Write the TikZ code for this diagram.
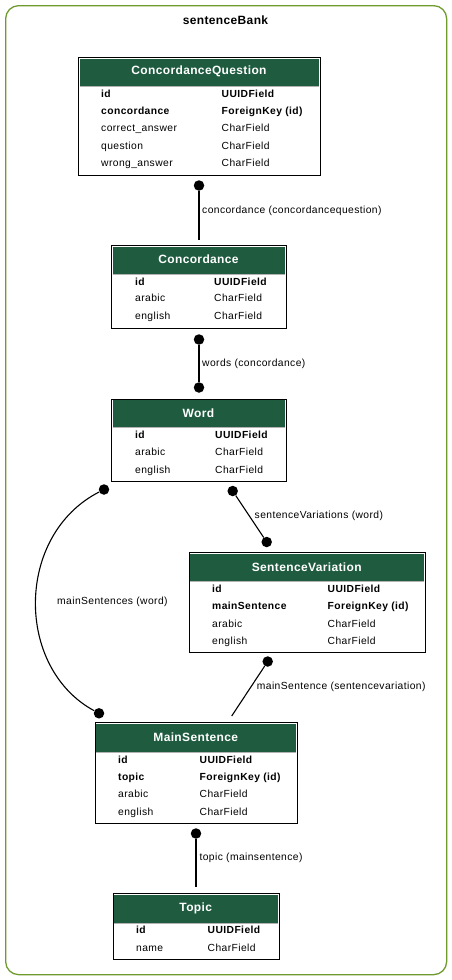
\documentclass[tikz,border=0pt]{standalone}
\usepackage{fontspec}
\setmainfont{Liberation Sans}
\newfontfamily\smallfont[LetterSpace=4]{Liberation Sans}
\newfontfamily\titlefont[LetterSpace=3]{Liberation Sans}
\definecolor{hdrgreen}{HTML}{1E5B3F}
\definecolor{framegreen}{HTML}{6E9A2E}
\tikzset{
  tbl/.style={draw=black, line width=1.2pt, fill=white, inner sep=0pt, rectangle},
  hdrfill/.style={fill=hdrgreen},
  hdrtext/.style={text=white, font=\titlefont\fontsize{12}{14}\selectfont\bfseries, inner sep=0pt},
  rowtxt/.style={anchor=base west, inner sep=0pt, font=\smallfont\fontsize{10.3}{12}\selectfont},
  rowkey/.style={rowtxt, font=\smallfont\fontsize{10.3}{12}\selectfont\bfseries},
  lbl/.style={anchor=base west, inner sep=0pt, font=\smallfont\fontsize{10.3}{12}\selectfont},
  dotnode/.style={circle, fill=black, inner sep=0pt, minimum size=10.5pt},
  edge/.style={draw=black, line width=1.1pt},
  frame/.style={draw=framegreen, line width=1.3pt, rounded corners=13pt, inner sep=0pt, rectangle},
}
\newcommand{\ertable}[7]{%
  \node[tbl, anchor=north west, minimum width={(#4-#2)*1pt}, minimum height={(#5-#3)*1pt}] (#1) at (#2,#3) {};
  \fill[hdrfill] (#2+1.5,#3+1.5) rectangle (#4-1.5,#6);
  \draw[gray!60, line width=0.6pt] (#2+1.5,#6) -- (#4-1.5,#6);
  \node[hdrtext] (#1-title) at ({(#2+#4)/2},{(#3+#6)/2}) {#7};
}
\begin{document}
\begin{tikzpicture}[x=1pt,y=-1pt]
\useasboundingbox (0,0) rectangle (452,980);
\node[frame, anchor=north west, minimum width=441pt, minimum height=969pt] (bank) at (5,5) {};
\node[inner sep=0pt, font=\titlefont\fontsize{12}{14}\selectfont\bfseries, anchor=base] (banktitle) at (225.5,24.5) {sentenceBank};

% ConcordanceQuestion
\ertable{cq}{78}{57}{320}{175}{86}{ConcordanceQuestion}
\node[rowkey] (cq-1a) at (101,97) {id};
\node[rowkey] (cq-1b) at (221.5,97) {UUIDField};
\node[rowkey] (cq-2a) at (101,114) {concordance};
\node[rowkey] (cq-2b) at (221.5,114) {ForeignKey (id)};
\node[rowtxt] (cq-3a) at (101,131) {correct\_answer};
\node[rowtxt] (cq-3b) at (221.5,131) {CharField};
\node[rowtxt] (cq-4a) at (101,149) {question};
\node[rowtxt] (cq-4b) at (221.5,149) {CharField};
\node[rowtxt] (cq-5a) at (101,166.5) {wrong\_answer};
\node[rowtxt] (cq-5b) at (221.5,166.5) {CharField};

% Concordance
\ertable{co}{111}{245}{286}{327.5}{274}{Concordance}
\node[rowkey] (co-1a) at (135,285.5) {id};
\node[rowkey] (co-1b) at (214,285.5) {UUIDField};
\node[rowtxt] (co-2a) at (135,301.5) {arabic};
\node[rowtxt] (co-2b) at (214,301.5) {CharField};
\node[rowtxt] (co-3a) at (135,319.5) {english};
\node[rowtxt] (co-3b) at (214,319.5) {CharField};

% Word
\ertable{wd}{111}{398.5}{286}{481}{427.5}{Word}
\node[rowkey] (wd-1a) at (135,438) {id};
\node[rowkey] (wd-1b) at (215,438) {UUIDField};
\node[rowtxt] (wd-2a) at (135,455) {arabic};
\node[rowtxt] (wd-2b) at (215,455) {CharField};
\node[rowtxt] (wd-3a) at (135,473) {english};
\node[rowtxt] (wd-3b) at (215,473) {CharField};

% SentenceVariation
\ertable{sv}{188.5}{552}{425}{652}{581.5}{SentenceVariation}
\node[rowkey] (sv-1a) at (212,592) {id};
\node[rowkey] (sv-1b) at (327.5,592) {UUIDField};
\node[rowkey] (sv-2a) at (212,609.5) {mainSentence};
\node[rowkey] (sv-2b) at (327.5,609.5) {ForeignKey (id)};
\node[rowtxt] (sv-3a) at (212,627) {arabic};
\node[rowtxt] (sv-3b) at (327.5,627) {CharField};
\node[rowtxt] (sv-4a) at (212,644) {english};
\node[rowtxt] (sv-4b) at (327.5,644) {CharField};

% MainSentence
\ertable{ms}{94.5}{722}{297}{823}{752}{MainSentence}
\node[rowkey] (ms-1a) at (118,763.5) {id};
\node[rowkey] (ms-1b) at (199.5,763.5) {UUIDField};
\node[rowkey] (ms-2a) at (118,780.5) {topic};
\node[rowkey] (ms-2b) at (199.5,780.5) {ForeignKey (id)};
\node[rowtxt] (ms-3a) at (118,797) {arabic};
\node[rowtxt] (ms-3b) at (199.5,797) {CharField};
\node[rowtxt] (ms-4a) at (118,815) {english};
\node[rowtxt] (ms-4b) at (199.5,815) {CharField};

% Topic
\ertable{tp}{112.5}{893}{279}{959}{923}{Topic}
\node[rowkey] (tp-1a) at (136,933) {id};
\node[rowkey] (tp-1b) at (207.5,933) {UUIDField};
\node[rowtxt] (tp-2a) at (136,951.5) {name};
\node[rowtxt] (tp-2b) at (207.5,951.5) {CharField};

% Edge 1: ConcordanceQuestion - Concordance
\node[dotnode] (d1) at (199,185.5) {};
\coordinate (e1) at (199,239.5);
\draw[edge] (d1) -- (e1);
\node[lbl] (l1) at (202,213.7) {concordance (concordancequestion)};

% Edge 2: Concordance - Word
\node[dotnode] (d2a) at (199,339.5) {};
\node[dotnode] (d2b) at (199,387.5) {};
\draw[edge] (d2a) -- (d2b);
\node[lbl] (l2) at (202,366.4) {words (concordance)};

% Edge 3: Word - SentenceVariation
\node[dotnode] (d3a) at (232.7,491) {};
\node[dotnode] (d3b) at (266.7,542) {};
\draw[edge] (d3a) -- (d3b);
\node[lbl] (l3) at (254.5,518.7) {sentenceVariations (word)};

% Edge 4: Word - MainSentence
\node[dotnode] (d4a) at (104,489.5) {};
\node[dotnode] (d4b) at (99,713.3) {};
\draw[edge] (d4a) .. controls (15,535) and (15,668) .. (d4b);
\node[lbl] (l4) at (57,604.7) {mainSentences (word)};

% Edge 5: SentenceVariation - MainSentence
\node[dotnode] (d5) at (267.7,661.5) {};
\coordinate (e5) at (231.7,716);
\draw[edge] (d5) -- (e5);
\node[lbl] (l5) at (256.7,689.4) {mainSentence (sentencevariation)};

% Edge 6: MainSentence - Topic
\node[dotnode] (d6) at (196,833.5) {};
\coordinate (e6) at (196,886.7);
\draw[edge] (d6) -- (e6);
\node[lbl] (l6) at (199.3,860.4) {topic (mainsentence)};
\end{tikzpicture}
\end{document}
